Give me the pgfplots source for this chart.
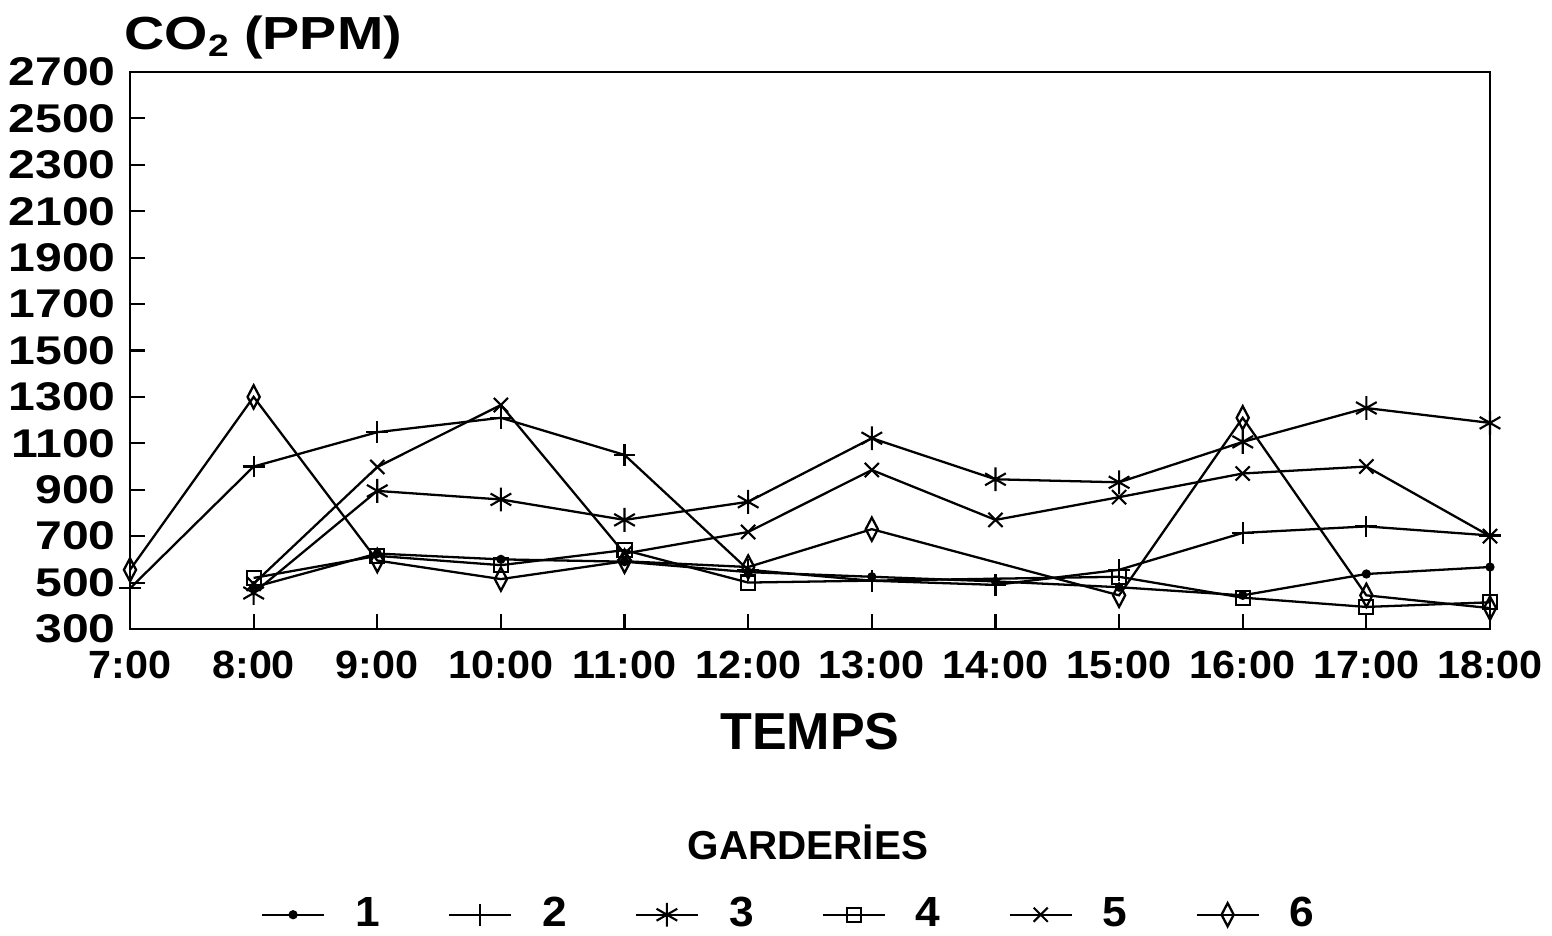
\documentclass[border=0pt]{standalone}
\usepackage{fontspec}
\setmainfont{Liberation Sans}
\newfontfamily\wide[FakeStretch=1.2]{Liberation Sans}
\newfontfamily\semi[FakeStretch=1.05]{Liberation Sans}
\usepackage{pgfplots}
\pgfplotsset{compat=1.18}
\begin{document}
\begin{tikzpicture}
\useasboundingbox (0,0) rectangle (15.52cm,9.36cm);
\begin{axis}[
  at={(1.30cm,3.07cm)}, anchor=south west,
  scale only axis, width=13.6cm, height=5.57cm,
  clip=false,
  xmin=7, xmax=18, ymin=300, ymax=2700,
  xtick={7,...,18},
  xticklabels={7:00,8:00,9:00,10:00,11:00,12:00,13:00,14:00,15:00,16:00,17:00,18:00},
  ytick={300,500,...,2700},
  xtick pos=left, ytick pos=left,
  tick align=inside, major tick length=0.15cm,
  axis line style={line width=0.7pt},
  every tick/.style={black, line width=0.6pt},
  /pgf/number format/assume math mode=true,
  /pgf/number format/1000 sep={},
  yticklabel style={font=\wide\bfseries\fontsize{11.4}{12}\selectfont, xshift=-0.02cm},
  xticklabel style={font=\semi\bfseries\fontsize{11.2}{12}\selectfont, yshift=-0.1cm},
  xlabel={\bfseries\fontsize{14.8}{16}\selectfont TEMPS},
  xlabel style={at={(0.5,-0.185)}, anchor=center},
  title={\wide\bfseries\fontsize{13.2}{15}\selectfont CO\raisebox{-0.25ex}{\fontsize{8.8}{10}\selectfont 2} (PPM)},
  title style={at={(0,1.034)}, anchor=base west, xshift=-0.06cm, yshift=-0.18cm, inner sep=0pt},
  every axis plot/.append style={line width=0.65pt, black, mark options={solid, line width=0.6pt}},
  legend columns=6,
  legend style={draw=none, fill=none, at={(0.488,-0.513)}, anchor=center,
    font=\semi\bfseries\fontsize{12}{14}\selectfont,
    /tikz/every odd column/.append style={column sep=0.18cm},
    /tikz/every even column/.append style={column sep=0.56cm},
    nodes={inner xsep=0.12cm}},
  legend image code/.code={
    \draw[mark repeat=2,mark phase=2] plot coordinates {(0cm,0cm) (0.31cm,0cm) (0.62cm,0cm)};},
]
\addplot[mark=*, mark size=1pt] coordinates {
(8,480)(9,625)(10,600)(11,590)(12,545)(13,525)(14,505)(15,480)(16,445)(17,537)(18,567)};
\addlegendentry{1}
\addplot[mark=+, mark size=3.1pt] coordinates {
(7,475)(8,1000)(9,1148)(10,1210)(11,1050)(12,555)(13,508)(14,490)(15,555)(16,714)(17,742)(18,703)};
\addlegendentry{2}
\addplot[mark=asterisk, mark size=3.4pt] coordinates {
(8,455)(9,895)(10,858)(11,770)(12,848)(13,1122)(14,945)(15,932)(16,1106)(17,1252)(18,1188)};
\addlegendentry{3}
\addplot[mark=square, mark size=2pt] coordinates {
(8,520)(9,615)(10,575)(11,640)(12,500)(15,525)(16,435)(17,395)(18,415)};
\addlegendentry{4}
\addplot[mark=x, mark size=2.85pt] coordinates {
(8,495)(9,998)(10,1265)(11,625)(12,718)(13,985)(14,770)(15,868)(16,970)(17,1000)(18,700)};
\addlegendentry{5}
\addplot[mark=diamond, mark size=3.3pt, mark options={xscale=0.7}] coordinates {
(7,555)(8,1300)(9,595)(10,515)(11,592)(12,567)(13,730)(15,445)(16,1210)(17,445)(18,390)};
\addlegendentry{6}
\node[font=\bfseries\fontsize{11.5}{13}\selectfont, anchor=center] at (rel axis cs:0.4985,-0.384) {GARDERİES};
\end{axis}
\end{tikzpicture}
\end{document}
